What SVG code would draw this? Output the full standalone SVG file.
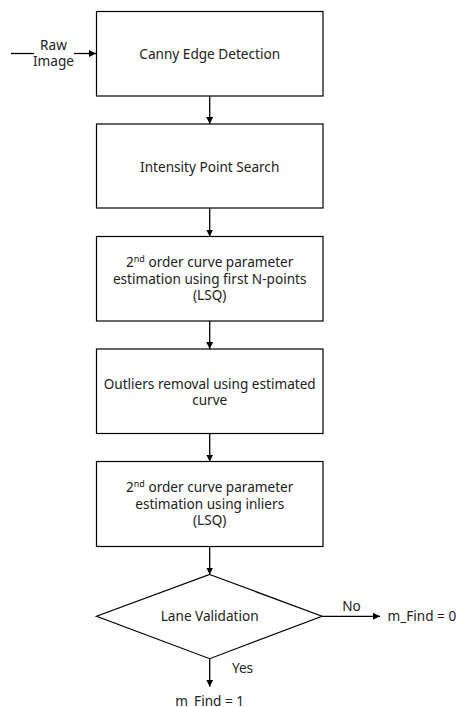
<svg xmlns="http://www.w3.org/2000/svg" width="462" height="707" viewBox="0 0 462 707">
<style>
.box{fill:#fff;stroke:#000;stroke-width:1.2}
.t{font-family:"Noto Sans","Open Sans",sans-serif;font-size:13.6px;fill:#222;text-anchor:middle}
.s{font-size:9px}
.ln{stroke:#000;stroke-width:1.3;fill:none}
</style>
<defs>
<marker id="ah" markerWidth="8" markerHeight="8" refX="7" refY="4" orient="auto" markerUnits="userSpaceOnUse">
<path d="M0,0.5 L7,4 L0,7.5 Z" fill="#000"/>
</marker>
</defs>
<rect width="462" height="707" fill="#fff"/>
<g id="connectors">
<line class="ln" x1="11" y1="53.5" x2="34" y2="53.5"/>
<line class="ln" x1="74" y1="53.5" x2="96" y2="53.5" marker-end="url(#ah)"/>
<line class="ln" x1="209.7" y1="96" x2="209.7" y2="124" marker-end="url(#ah)"/>
<line class="ln" x1="209.7" y1="208" x2="209.7" y2="236.5" marker-end="url(#ah)"/>
<line class="ln" x1="209.7" y1="321" x2="209.7" y2="349" marker-end="url(#ah)"/>
<line class="ln" x1="209.7" y1="433.5" x2="209.7" y2="461.5" marker-end="url(#ah)"/>
<line class="ln" x1="209.7" y1="546.5" x2="209.7" y2="574.5" marker-end="url(#ah)"/>
<line class="ln" x1="322" y1="616.3" x2="380" y2="616.3" marker-end="url(#ah)"/>
<line class="ln" x1="209.7" y1="658.7" x2="209.7" y2="686.7" marker-end="url(#ah)"/>
<text class="t" x="53.5" y="49.5">Raw</text>
<text class="t" x="53.5" y="65.5">Image</text>
<text class="t" x="351.5" y="610.5">No</text>
<text class="t" x="242.5" y="673">Yes</text>
</g>
<g id="canny">
<rect class="box" x="96.5" y="11.5" width="226.5" height="84.5"/>
<text class="t" x="209.7" y="58.5">Canny Edge Detection</text>
</g>
<g id="intensity">
<rect class="box" x="96.5" y="124" width="226.5" height="84"/>
<text class="t" x="209.7" y="171.5">Intensity Point Search</text>
</g>
<g id="curve1">
<rect class="box" x="96.5" y="236.5" width="226.5" height="84.5"/>
<text class="t" x="209.7" y="267.3">2<tspan class="s" dy="-5">nd</tspan><tspan dy="5"> order curve parameter</tspan></text>
<text class="t" x="209.7" y="283.5">estimation using first N-points</text>
<text class="t" x="209.7" y="300">(LSQ)</text>
</g>
<g id="outliers">
<rect class="box" x="96.5" y="349" width="226.5" height="84.5"/>
<text class="t" x="209.7" y="388.7">Outliers removal using estimated</text>
<text class="t" x="209.7" y="404.5">curve</text>
</g>
<g id="curve2">
<rect class="box" x="96.5" y="461.5" width="226.5" height="85"/>
<text class="t" x="209.7" y="492.3">2<tspan class="s" dy="-5">nd</tspan><tspan dy="5"> order curve parameter</tspan></text>
<text class="t" x="209.7" y="508.7">estimation using inliers</text>
<text class="t" x="209.7" y="525">(LSQ)</text>
</g>
<g id="validation">
<polygon class="box" points="209.7,574.5 322,616.3 209.7,658.7 96.5,616.3"/>
<text class="t" x="209.7" y="621">Lane Validation</text>
</g>
<g id="find0">
<text class="t" x="387.5" y="620.7" style="text-anchor:start">m_Find = 0</text>
</g>
<g id="find1">
<text class="t" x="209.7" y="705.5">m_Find = 1</text>
</g>
</svg>
